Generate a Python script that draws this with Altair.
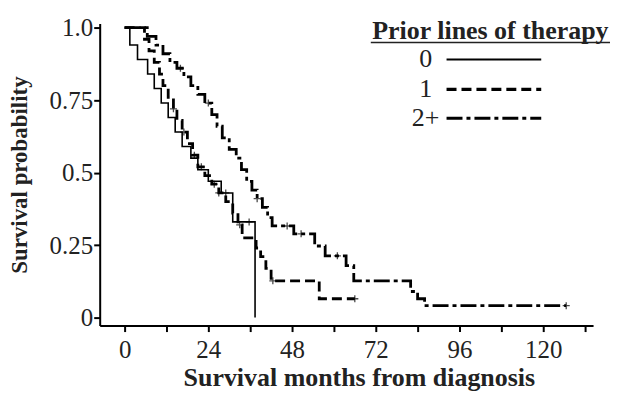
import altair as alt
import pandas as pd

# ---- data (months, survival probability) ----
t0 = [0, 1.5, 3.7, 6.6, 8.5, 10.5, 12.5, 14.5, 16.5, 19, 21, 24, 27.7, 31, 37.4]
s0 = [1.0, 0.94, 0.89, 0.84, 0.79, 0.74, 0.69, 0.64, 0.59, 0.55, 0.51, 0.47, 0.43, 0.33, 0.0]
c0 = [29, 35.7]

t1 = [0, 5.7, 7, 8.5, 10, 11, 12.5, 14, 15, 16.5, 18, 19.5, 21, 23, 25, 27, 29, 31,
      32.5, 33.7, 37.7, 39, 40.5, 42, 55.8, 66]
s1 = [1.0, 0.96, 0.92, 0.88, 0.84, 0.80, 0.76, 0.72, 0.68, 0.64, 0.60, 0.56, 0.52, 0.49,
      0.46, 0.43, 0.40, 0.36, 0.32, 0.275, 0.24, 0.21, 0.17, 0.127, 0.065, 0.065]
c1 = [14, 17, 20, 22, 25.7, 27, 33, 42.5, 66]

t2 = [0, 6.5, 9, 11, 13, 15, 17, 19, 21, 23, 25, 26.5, 28, 30, 32, 33.5, 35, 36.5, 38,
      39.5, 41, 42.3, 48.5, 54.5, 57.5, 63.5, 65.7, 82, 84, 86, 126.6]
s2 = [1.0, 0.97, 0.94, 0.91, 0.88, 0.86, 0.83, 0.80, 0.77, 0.74, 0.70, 0.66, 0.62, 0.58,
      0.55, 0.51, 0.47, 0.44, 0.41, 0.38, 0.345, 0.316, 0.289, 0.247, 0.213, 0.179, 0.127,
      0.09, 0.065, 0.041, 0.041]
c2 = [16, 24, 38, 46.6, 50.6, 61, 126.6]

groups = ["0", "1", "2+"]
x_ticks = list(range(0, 133, 12))
y_ticks = [0, 0.25, 0.5, 0.75, 1.0]

FONT = "Liberation Serif"
INK = "#222222"


def step_val(ts, ss, t):
    v = ss[0]
    for a, b in zip(ts, ss):
        if a <= t:
            v = b
    return v


curves = [(t0, s0, c0), (t1, s1, c1), (t2, s2, c2)]
dashes = [[1, 0], [10, 5], [16, 4, 4, 4]]
widths = [1.6, 2.8, 2.8]

x_scale = alt.Scale(domain=[-7.14, 134.3], nice=False, zero=False)
y_scale = alt.Scale(domain=[-0.0275, 1.014], nice=False, zero=False)

x_axis = alt.Axis(values=x_ticks, labelExpr="datum.value % 24 == 0 ? datum.label : ''",
                  title="Survival months from diagnosis", grid=False, format="d",
                  titleFontSize=26, titleX=260, titleAlign="center")
y_axis = alt.Axis(values=y_ticks,
                  labelExpr="datum.value == 1 ? '1.0' : (datum.value == 0 ? '0' : format(datum.value, '.2~f'))",
                  title="Survival probability", grid=False, titleFontSize=23)

X = alt.X("t:Q", scale=x_scale, axis=x_axis)
Y = alt.Y("s:Q", scale=y_scale, axis=y_axis)

layers = []
for i, (ts, ss, cs) in enumerate(curves):
    df = pd.DataFrame({"t": ts, "s": ss, "o": list(range(len(ts))), "g": groups[i]})
    line = alt.Chart(df).mark_line(interpolate="step-after", color="black",
                                   strokeWidth=widths[i], strokeDash=dashes[i]).encode(
        x=X, y=Y, order="o:Q",
    )
    layers.append(line)
    cdf = pd.DataFrame({"t": cs, "s": [step_val(ts, ss, c) for c in cs]})
    cens = alt.Chart(cdf).mark_point(shape="M-1,0H1M0,-1V1", size=50, color="black",
                                     strokeWidth=1.3, filled=False).encode(x=X, y=Y)
    layers.append(cens)

# ---- legend drawn by hand (labels left of line samples) ----
leg_y = [36, 66, 95]
layers.append(alt.Chart(pd.DataFrame({"a": [0]})).mark_text(
    text="Prior lines of therapy", fontWeight="bold", align="center", baseline="alphabetic",
    font=FONT, fontSize=26, color=INK).encode(x=alt.value(392), y=alt.value(15)))
layers.append(alt.Chart(pd.DataFrame({"a": [0]})).mark_rule(color=INK, strokeWidth=1.5).encode(
    x=alt.value(272), x2=alt.value(512), y=alt.value(19)))
for i, g in enumerate(groups):
    layers.append(alt.Chart(pd.DataFrame({"a": [0]})).mark_text(
        text=g, align="center", baseline="middle", font=FONT, fontSize=26, color=INK).encode(
        x=alt.value(327), y=alt.value(leg_y[i])))
    layers.append(alt.Chart(pd.DataFrame({"a": [0]})).mark_rule(
        color="black", strokeWidth=widths[i] + 0.4, strokeDash=dashes[i]).encode(
        x=alt.value(348), x2=alt.value(443), y=alt.value(leg_y[i])))

chart = alt.layer(*layers).properties(
    width=495, height=303,
    padding={"top": 7, "left": 0, "right": 0, "bottom": 0},
).configure_view(stroke=None).configure_axis(
    labelFont=FONT, titleFont=FONT, labelFontSize=25,
    labelColor=INK, titleColor=INK, titleFontWeight="bold",
    domainColor="black", domainWidth=2, tickColor="black", tickWidth=2, tickSize=6,
).configure_axisX(labelPadding=6, titlePadding=2).configure_axisY(labelPadding=1, titlePadding=18)

chart.save("out.html", embed_options={"renderer": "svg", "actions": False})
